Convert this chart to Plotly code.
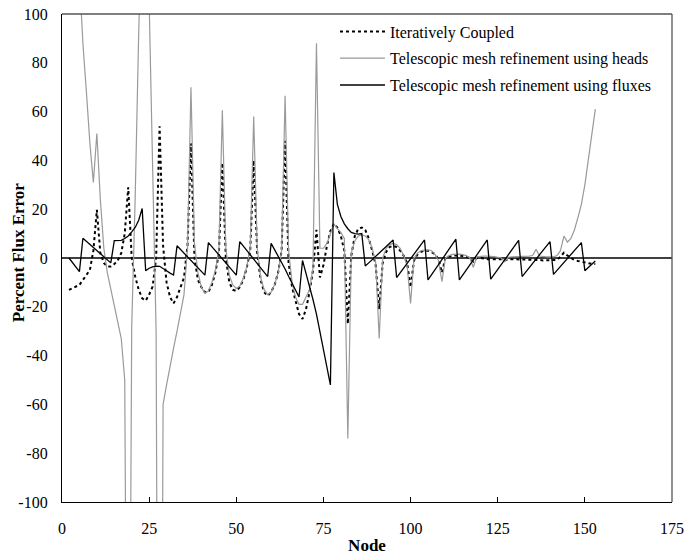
import plotly.graph_objects as go

# Node numbers along the profile
nodes = list(range(2, 154))

# Percent flux error, iteratively coupled solution
iterative = [
    -13.1, -12.3, -11.7, -11, -9, -7, -4.9, 3, 19.7, 2,
    -2, -3.5, -3.5, -2.5, -1, 2, 10, 29, 0, -7.6,
    -13, -16.5, -17.5, -15, -11.7, 0, 54, 5, -10, -16,
    -18.6, -16, -12, -8, 5, 47, 0, -9, -12, -14,
    -14, -11, -6, 2, 39, 0, -10, -13, -13.5, -12,
    -9, -4, 3, 40, 2, -9, -14, -15.5, -14, -11,
    -6, 3, 48, -2, -12, -18, -23, -25, -21, -14,
    -5, 11.5, -8, -3, 5, 11, 14, 12.5, 9, 3,
    -27, 1, 9, 12, 12.5, 11.5, 8, 3, -3, -21,
    -2, 2.5, 4.5, 5, 4.5, 3, 1, -2, -12, -1,
    1.5, 2.5, 3, 3, 2.5, 1.5, -0.5, -6, 0, 0.5,
    1, 1, 1, 0.8, 0.5, 0, -1.5, 0, 0, -0.3,
    -0.5, -0.5, -0.5, -0.5, -0.5, -1, -0.5, -0.5, -0.5, -0.5,
    -0.7, -0.8, -0.8, -0.8, -0.5, -0.8, -1, -1, -1, -1,
    -0.8, 0.5, 2.2, 1, 0, -0.8, -1.2, -1.5, -2, -2.2,
    -2.4, -2.5,
]

# Percent flux error, telescopic mesh refinement driven by heads
heads = [
    320, 240, 170, 115, 88, 68, 47, 31, 51, 24,
    4, -6, -12.5, -19, -26, -33, -50, -300, -28, 25,
    92, 180, 200, 105, 40, -30, -400, -60, -52, -44,
    -37, -30, -22, -15, 4, 70, 6, -6, -12, -14.5,
    -13.5, -10, -5, 3, 60.5, 4, -7, -11, -12.5, -11.5,
    -8.5, -3.5, 4, 58, 4, -8, -13, -15, -14, -11,
    -6, 3, 66.5, 3, -10, -16, -19, -19, -16, -13,
    -4, 88, 4, 4, 6, 10, 14, 12, 10.5, 8,
    -74, 2, 7, 9, 9.5, 9, 7.5, 4, -2, -33,
    0, 4, 5.5, 6, 5.5, 4, 1, -3, -18.6, 0,
    2, 3, 3.3, 3.3, 3, 1.5, -1, -9.7, 0, 1,
    1.5, 1.6, 1.6, 1.4, 1, 0, -3.8, 0.5, 0.8, 0.8,
    0.8, 0.8, 0.6, 0.3, 0, -1.5, 0.3, 0.5, 0.5, 0.5,
    0.5, 0.5, 0.8, 1, 3.6, 0.8, 0.5, 0.5, 0.5, 0.5,
    1, 3, 9, 6.5, 8, 11.5, 16.5, 22, 30, 40,
    50, 61,
]

# Percent flux error, telescopic mesh refinement driven by fluxes
fluxes = [
    0, -2, -4, -5.6, 8.1, 6.8, 5.6, 4.3, 3.1, 1.8,
    0.5, -0.7, -2, 7.1, 7.1, 7.2, 8, 9, 10.7, 12.5,
    15.5, 20.3, -5.2, -4.2, -3.6, -3.3, -3.4, -4.2, -5.2, -6.2,
    -7, 5, 3.5, 2, 0.5, -1, -2.5, -4, -5.5, -7,
    6.3, 4.6, 3.0, 1.3, -0.3, -2.0, -3.7, -5.3, -7, 6.7,
    4.9, 3.1, 1.3, -0.5, -2.2, -4.0, -5.8, -7.6, 6, 3.5,
    1, -1.5, -4.5, -7.5, -10.5, -13.3, -16, -1, -6, -11,
    -17, -23, -30, -37, -44, -52, 35, 22, 17, 14,
    12, 10.5, 10, 9.8, 10, -3.3, -2, -0.6, 0.7, 2.1,
    3.4, 4.7, 6.1, 7.4, -8, -6.1, -4.1, -2.2, -0.3, 1.6,
    3.6, 5.5, 7.4, -9, -6.9, -4.8, -2.7, -0.6, 1.4, 3.5,
    5.6, 7.7, -9, -7, -4.9, -2.9, -0.8, 1.3, 3.3, 5.4,
    7.4, -8.7, -6.7, -4.7, -2.7, -0.7, 1.3, 3.2, 5.2, 7.2,
    -7.6, -5.8, -4.0, -2.2, -0.4, 1.3, 3.1, 4.9, 6.7, -6.7,
    -5.1, -3.5, -1.8, -0.2, 1.4, 3.0, 4.7, 6.3, -5.2, -3.9,
    -2.5, -1.2,
]

x_ticks = [0, 25, 50, 75, 100, 125, 150, 175]
y_ticks = [-100, -80, -60, -40, -20, 0, 20, 40, 60, 80, 100]
y_tick_text = [str(v) for v in y_ticks]  # plain hyphen for negatives

serif = "Liberation Serif"

fig = go.Figure()
fig.add_trace(go.Scatter(
    x=nodes, y=iterative, mode="lines", name="Iteratively Coupled",
    line=dict(color="black", width=2, dash="dot"), legendgroup="a",
))
fig.add_trace(go.Scatter(
    x=nodes, y=heads, mode="lines", name="Telescopic mesh refinement using heads",
    line=dict(color="#9a9a9a", width=1.2), legendgroup="b",
))
fig.add_trace(go.Scatter(
    x=nodes, y=fluxes, mode="lines", name="Telescopic mesh refinement using fluxes",
    line=dict(color="black", width=1.3), legendgroup="c",
))

fig.update_layout(
    width=685, height=558,
    margin=dict(l=62, r=13, t=14, b=56),
    plot_bgcolor="white", paper_bgcolor="white",
    font=dict(family=serif, size=16, color="black"),
    showlegend=True,
    legend=dict(
        x=0.4475, y=0.999, xanchor="left", yanchor="top",
        bgcolor="rgba(0,0,0,0)", borderwidth=0,
        font=dict(family=serif, size=16, color="black"),
        tracegroupgap=3, itemwidth=45,
    ),
    xaxis=dict(
        range=[0, 175], tickvals=x_ticks, ticks="inside", ticklen=5,
        tickcolor="black", showgrid=False, zeroline=False,
        showline=True, linecolor="black", linewidth=1.3,
        ticklabelstandoff=12, automargin=False,
        title=dict(text="<b>Node</b>", font=dict(family=serif, size=17), standoff=2),
    ),
    yaxis=dict(
        range=[-100, 100], tickvals=y_ticks, ticktext=y_tick_text, ticks="",
        showgrid=False,
        zeroline=True, zerolinecolor="#404040", zerolinewidth=1.5,
        showline=True, linecolor="black", linewidth=1.3,
        ticklabelstandoff=10, automargin=False,
    ),
    annotations=[dict(
        text="<b>Percent Flux Error</b>", textangle=-90,
        xref="paper", yref="paper", x=-0.072, y=0.512,
        xanchor="center", yanchor="middle", showarrow=False,
        font=dict(family=serif, size=17, color="black"),
    )],
)

# Frame on the top and right of the plotting area
fig.add_shape(type="line", xref="paper", yref="paper", x0=0, x1=1, y0=1, y1=1,
              line=dict(color="#555555", width=1.3))
fig.add_shape(type="line", xref="paper", yref="paper", x0=1, x1=1, y0=0, y1=1,
              line=dict(color="#555555", width=1.3))

fig.write_html("out.html")
